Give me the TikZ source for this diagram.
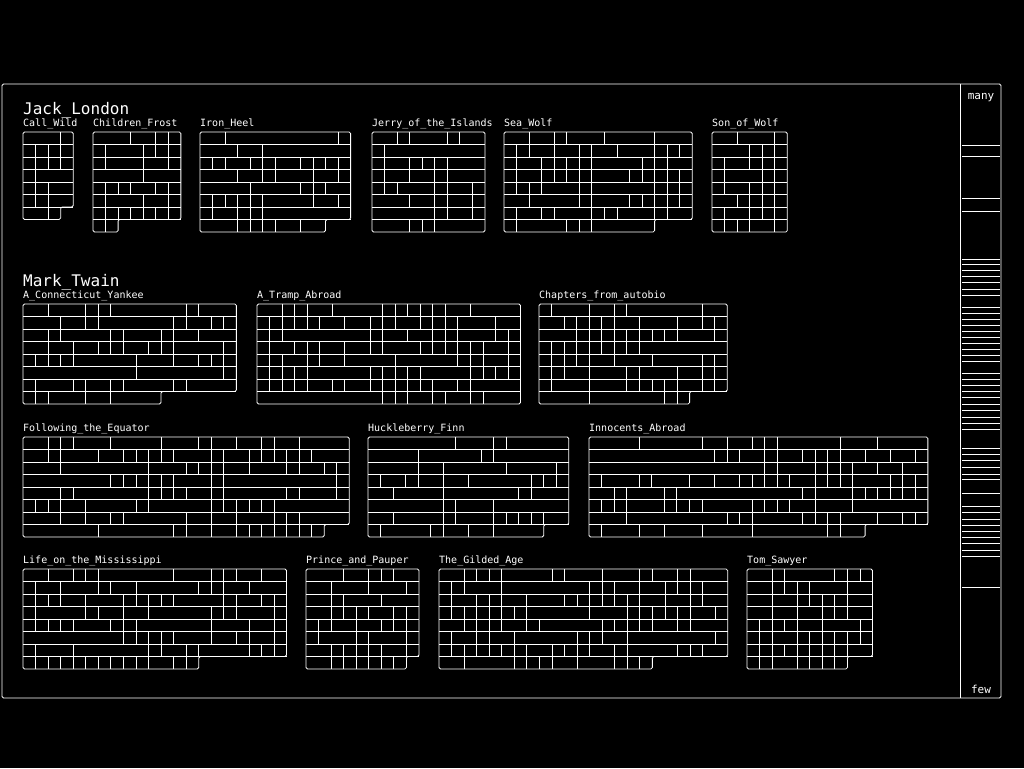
\documentclass[tikz,border=0pt]{standalone}
\usepackage{fontspec}
\setmonofont{DejaVu Sans Mono}

\def\cellw{12.55}
\def\cellh{12.5}

% one book: #1 name, #2 label, #3 x, #4 y, #5 columns, #6 rows,
% #7 columns of the last row, #8 chapter borders in each row
\newcommand{\bookblock}[8]{%
  \node[booklabel] (#1) at (#3,#4-6) {#2};
  \pgfmathsetmacro{\bkw}{#5*\cellw}%
  \pgfmathsetmacro{\bkl}{#7*\cellw}%
  \pgfmathsetmacro{\bkh}{#6*\cellh}%
  \pgfmathsetmacro{\bkf}{(#6-1)*\cellh}%
  \pgfmathtruncatemacro{\bkr}{#6-1}%
  \ifnum#7=#5
    \draw[cellline,rounded corners=1.5pt] (#3,#4) rectangle ++(\bkw,\bkh);
  \else
    \draw[cellline,rounded corners=1.5pt] (#3,#4) -- ++(\bkw,0) -- ++(0,\bkf)
      -- (#3+\bkl,#4+\bkf) -- (#3+\bkl,#4+\bkh) -- (#3,#4+\bkh) -- cycle;
  \fi
  \foreach \rw in {1,...,\bkr}
    \draw[cellline] (#3,#4+\rw*\cellh) -- ++(\bkw,0);
  \foreach \cols [count=\rw] in {#8}
    \foreach \cl in \cols
      \draw[cellline] (#3+\cl*\cellw,#4+\rw*\cellh-\cellh) -- ++(0,\cellh);
}

\begin{document}
\begin{tikzpicture}[x=1pt,y=-1pt,
    cellline/.style={draw=white,line width=0.8pt},
    booklabel/.style={anchor=base west,inner sep=0pt,text=white,
      font=\ttfamily\fontsize{10}{10}\selectfont},
    authorlabel/.style={anchor=base west,inner sep=0pt,text=white,
      font=\ttfamily\fontsize{16}{16}\selectfont},
    legendlabel/.style={inner sep=0pt,text=white,
      font=\ttfamily\fontsize{11}{11}\selectfont}]

    % Background
    \fill[black] (0,0) rectangle (1024,768);

    % Frame and legend
    \draw[cellline,rounded corners=1.5pt] (2,84) rectangle (1001,698);
    \draw[cellline] (960,84) -- (960,698);
    \foreach \ly in {145,156,198,211,259,264,270,276,282,289,295,307,313,
        319,325,331,337,343,349,355,361,373,379,385,391,397,404,410,417,
        423,429,448,454,460,467,474,479,493,506,512,519,525,531,537,543,
        550,556,587}
      \draw[cellline] (962,\ly) -- (1000,\ly);
    \node[legendlabel] (many) at (981,98) {many};
    \node[legendlabel] (few) at (981,689) {few};

    % Jack London
    \node[authorlabel] (london) at (23,114) {Jack\_London};
    \bookblock{callwild}{Call\_Wild}{23}{132}{4}{7}{3}
      {{3},{1,2,3},{1,2,3},{1},{1,2},{1,2},{2}}
    \bookblock{childfrost}{Children\_Frost}{93}{132}{7}{8}{2}
      {{3,5,6},{1,4,5,6},{1,4,6},{4},{1,2,3,5,6},{1,4,6},{1,2,3,4,5,6},{1}}
    \bookblock{ironheel}{Iron\_Heel}{200}{132}{12}{8}{10}
      {{2,11},{3,5},{1,2,4,5,6,8,9,10,11},{3,5,6,9,11},{4,8,9,10},
       {1,2,3,4,5,9,11},{1,3,4,5},{3,4,5,6,8}}
    \bookblock{jerry}{Jerry\_of\_the\_Islands}{372}{132}{9}{8}{9}
      {{2,3,6,7},{1},{1,3,4,5,6},{1,3,5,6},{1,2,5,6,8},{3,5,6,8},{5,6,8},{3,4,5}}
    \bookblock{seawolf}{Sea\_Wolf}{504}{132}{15}{8}{12}
      {{2,4,5,8,12},{1,2,4,6,7,9,12,13,14},{1,3,4,5,6,7,11,12,13},
       {1,3,4,5,6,7,10,11,12,13,14},{1,2,3,6,7,12,13,14},
       {2,6,7,10,11,12,13,14},{1,3,4,7,8,9,12,13},{1,5,6,7}}
    \bookblock{sonwolf}{Son\_of\_Wolf}{712}{132}{6}{8}{6}
      {{2,5},{3,4,5},{1,3,4,5},{1,4,5},{1,3,4,5},{2,3,4,5},{1,3,4,5},{1,2,3,5}}

    % Mark Twain
    \node[authorlabel] (twain) at (23,286) {Mark\_Twain};
    \bookblock{yankee}{A\_Connecticut\_Yankee}{23}{304}{17}{8}{11}
      {{2,5,6,7,13,14},{3,5,6,12,13,15,16},{2,3,7,8,11,12,14},
       {2,4,6,7,8,10,11,12,16},{1,2,3,4,9,12,14,15,16},{9,16},
       {1,4,5,7,8,12,13},{1,2,5,7}}
    \bookblock{tramp}{A\_Tramp\_Abroad}{257}{304}{21}{8}{21}
      {{2,3,4,6,10,11,12,13,14,15,17},{1,2,3,4,5,7,9,10,11,13,14,15,16,19},
       {1,2,9,10,12,14,15,16,19,20},{1,3,4,5,7,9,10,13,14,15,16,17,18,20},
       {1,2,4,5,7,11,16,17,18,20},{1,2,3,4,9,10,11,12,13,17,18,19,20},
       {1,2,3,4,6,7,9,10,11,12,13,14,16,17},{10,11,12,14,15,17,18}}
    \bookblock{autobio}{Chapters\_from\_autobio}{539}{304}{15}{8}{12}
      {{1,4,6,7,13},{2,3,4,5,6,8,11,13,14},{3,4,5,6,7,8,9,10,11,14},
       {1,2,3,4,5,6,7,8},{1,2,3,4,6,9,13,14},{1,2,4,7,8,11,13,14},
       {1,4,7,8,9,10,11,13,14},{4,10,11}}
    \bookblock{equator}{Following\_the\_Equator}{23}{437}{26}{8}{24}
      {{2,3,4,7,11,14,15,17,19,20,22},
       {2,3,6,8,9,10,11,12,15,16,18,19,20,21,22,23},
       {3,10,13,14,15,16,18,21,22,24,25},{7,8,9,10,11,12,15,16,25},
       {3,4,10,11,12,13,15,16,21,22,25},{1,2,3,5,9,10,15,16,17,18,19,20},
       {3,5,7,8,13,15,17,20,21,22},{6,12,13,15,17,18,19,20,21,22,23}}
    \bookblock{huckfinn}{Huckleberry\_Finn}{368}{437}{16}{8}{14}
      {{7,10,11},{4,9,10},{4,6,11,15},{1,3,4,6,8,13,14,15},{2,6,12,13},
       {6,7,10},{2,6,7,10,11,12,13,14},{1,5,6,8,10}}
    \bookblock{innocents}{Innocents\_Abroad}{589}{437}{27}{8}{22}
      {{4,9,11,13,14,15,20,23},{10,11,12,14,15,17,18,19,20,22,24,26},
       {14,15,18,19,20,21,23,25},
       {1,4,5,8,10,12,13,14,15,16,18,19,20,21,24,25,26},
       {2,3,6,7,17,18,21,22,23,24,25,26},
       {1,2,3,6,7,8,9,13,14,15,16,18,21},
       {3,11,12,13,17,18,19,20,23,25,26},{1,4,6,9,13,19,20}}
    \bookblock{mississippi}{Life\_on\_the\_Mississippi}{23}{569}{21}{8}{14}
      {{2,4,5,6,12,15,16,17,19},{1,3,6,7,9,14,15,16,18},
       {1,2,3,5,8,9,10,11,12,16,17,19,20},{1,5,6,8,10,15,16,17,20},
       {1,2,3,4,7,8,9,15,18,20},{8,9,10,11,12,15,17,18,20},
       {1,4,10,11,13,14,18,19,20},{1,2,3,4,5,6,7,8,9,10,12,13}}
    \bookblock{pauper}{Prince\_and\_Pauper}{306}{569}{9}{8}{8}
      {{3,5,6,7},{2,5,8},{2,3,6},{2,3,4,5,7,8},{1,2,4,6,7,8},{1,4,5,8},
       {2,3,4,5,6,8},{2,3,4,5,6,7}}
    \bookblock{gildedage}{The\_Gilded\_Age}{439}{569}{23}{8}{17}
      {{2,3,4,5,9,10,13,16,17,19,20},{1,2,5,12,13,14,16,18,19,20,21},
       {1,3,4,5,7,10,11,12,13,14,15,16,18,20,21},
       {1,2,3,4,5,6,7,12,15,16,17,18,19,20,22},
       {2,3,4,5,7,8,13,14,15,16,17,19,20},{1,3,4,6,11,12,13,15,22},
       {1,2,3,4,5,6,7,9,10,11,12,14,15,19,20,21},{2,6,7,8,9,11,14,15,16}}
    \bookblock{sawyer}{Tom\_Sawyer}{747}{569}{10}{8}{8}
      {{2,3,7,8,9},{2,3,4,5,8},{2,4,5,6,7,8},{2,4,6,7,8},{1,2,3,4,6,9},
       {1,2,4,5,6,7,8,9},{1,2,3,4,5,6,7,8},{1,2,4,5,6,7}}

\end{tikzpicture}
\end{document}
